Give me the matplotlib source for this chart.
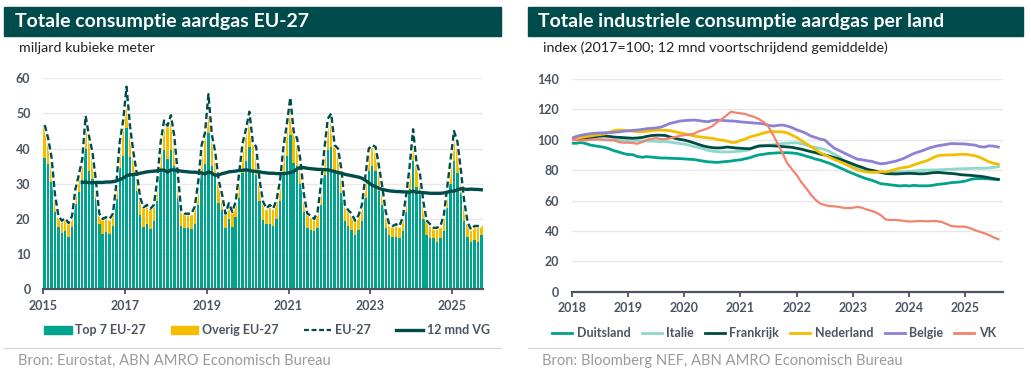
import matplotlib
matplotlib.use("Agg")
import matplotlib.pyplot as plt
from matplotlib.patches import Rectangle, Patch
from matplotlib.lines import Line2D

# ---------------- data: left chart (monthly, Jan 2015 - Sep 2025) ----------------
eu27_total = [
    46.7, 43.0, 37.6, 27.0, 21.0, 19.5, 20.2, 18.8, 20.8, 28.5, 32.5, 37.0,   # 2015
    49.3, 43.5, 39.0, 31.0, 21.5, 20.0, 20.5, 20.0, 21.5, 30.0, 42.0, 48.0,   # 2016
    57.6, 46.5, 39.0, 33.0, 26.0, 23.3, 24.0, 22.9, 24.0, 31.0, 42.0, 48.0,   # 2017
    46.5, 49.5, 43.5, 33.0, 22.5, 21.5, 21.5, 21.5, 23.5, 30.5, 41.0, 44.5,   # 2018
    55.5, 44.0, 39.0, 31.0, 27.0, 21.5, 24.5, 22.0, 25.0, 33.0, 41.5, 45.5,   # 2019
    50.5, 42.0, 40.5, 31.0, 25.0, 23.0, 24.0, 23.0, 25.5, 31.0, 40.5, 47.0,   # 2020
    54.5, 44.8, 42.9, 36.5, 27.0, 21.5, 21.0, 20.0, 22.0, 30.0, 40.0, 48.5,   # 2021
    50.0, 41.0, 40.0, 34.0, 24.0, 22.5, 21.5, 19.5, 21.0, 24.0, 32.0, 40.0,   # 2022
    41.0, 40.5, 35.0, 29.0, 22.0, 18.5, 18.0, 18.5, 18.0, 20.5, 27.0, 35.0,   # 2023
    45.5, 36.0, 33.0, 25.0, 19.5, 18.5, 17.5, 17.5, 18.0, 21.0, 29.0, 37.0,   # 2024
    45.0, 42.0, 34.0, 25.0, 19.0, 17.0, 18.0, 18.0, 18.0,                     # 2025
]
top7 = [
    37.4, 35.5, 30.5, 22.0, 17.6, 16.0, 16.5, 14.8, 17.6, 24.3, 27.6, 31.0,
    40.0, 33.5, 31.4, 25.7, 18.6, 15.7, 16.2, 15.7, 18.0, 25.7, 34.5, 38.0,
    46.0, 37.5, 32.4, 28.0, 21.0, 17.6, 18.5, 17.1, 19.5, 25.0, 34.0, 39.5,
    37.0, 39.5, 35.0, 26.0, 18.0, 17.5, 17.3, 17.2, 18.6, 24.0, 33.0, 35.5,
    44.5, 35.0, 32.0, 24.5, 22.5, 17.3, 20.0, 17.8, 20.5, 26.0, 33.0, 36.5,
    40.5, 34.0, 32.5, 25.0, 19.8, 18.5, 18.6, 18.0, 20.0, 25.0, 33.0, 38.0,
    43.8, 36.0, 35.0, 30.0, 22.0, 17.5, 17.0, 16.5, 17.5, 24.0, 32.5, 39.5,
    40.5, 34.0, 33.0, 27.5, 19.5, 18.0, 17.0, 15.5, 17.0, 19.5, 26.0, 33.5,
    35.0, 33.5, 28.0, 24.0, 17.5, 15.5, 15.0, 15.0, 14.5, 16.5, 22.0, 28.5,
    36.5, 29.0, 27.0, 20.0, 15.5, 14.5, 14.5, 13.5, 14.5, 16.5, 23.0, 30.0,
    36.5, 33.0, 27.5, 19.5, 15.0, 13.5, 14.0, 13.5, 15.5,
]
# 12-month moving average, Dec 2015 - Sep 2025
vg_start = 11
vg12 = [
    30.4,
    30.5, 30.3, 30.3, 30.4, 30.4, 30.4, 30.5, 30.5, 30.6, 30.8, 31.2, 31.6,
    32.3, 32.6, 32.6, 32.8, 33.0, 33.2, 33.4, 33.5, 33.6, 33.7, 33.9, 33.9,
    33.3, 34.0, 33.9, 33.8, 33.6, 33.5, 33.4, 33.3, 33.3, 33.2, 33.1, 32.8,
    33.4, 33.0, 32.4, 32.5, 32.9, 33.1, 33.4, 33.5, 33.6, 33.8, 33.8, 34.0,
    33.8, 33.6, 33.5, 33.4, 33.2, 33.1, 33.0, 33.0, 32.9, 32.9, 32.9, 33.0,
    33.2, 33.5, 34.2, 34.7, 34.6, 34.4, 34.3, 34.2, 34.1, 34.1, 34.0, 34.0,
    33.7, 33.5, 33.2, 33.0, 32.7, 32.5, 32.3, 32.1, 31.9, 31.6, 31.0, 30.3,
    29.6, 29.2, 28.7, 28.4, 28.2, 28.0, 27.9, 27.8, 27.8, 27.7, 27.7, 27.6,
    27.9, 27.6, 27.6, 27.5, 27.4, 27.3, 27.3, 27.3, 27.3, 27.4, 27.6, 27.9,
    27.9, 28.3, 28.6, 28.5, 28.4, 28.5, 28.4, 28.4, 28.3,
]
left_years = [2015, 2017, 2019, 2021, 2023, 2025]
left_start_year = 2015

# ---------------- data: right chart (monthly, Jan 2018 - Aug 2025) ----------------
right_start_year = 2018
right_years = [2018, 2019, 2020, 2021, 2022, 2023, 2024, 2025]
duitsland = [
    97.7, 97.7, 98.2, 97.5, 96.5, 96.0, 95.5, 95.0, 94.0, 92.8, 92.0, 91.0,
    90.3, 90.2, 89.0, 88.5, 88.9, 88.6, 88.3, 88.0, 88.0, 87.8, 87.7, 87.6,
    87.4, 87.2, 87.0, 86.5, 86.0, 85.5, 85.3, 85.1, 85.4, 85.7, 86.0, 86.5,
    86.8, 87.5, 88.2, 89.3, 90.1, 90.5, 91.0, 91.2, 91.4, 91.5, 91.5, 91.3,
    91.0, 90.2, 89.2, 88.4, 87.3, 86.6, 85.5, 84.5, 83.2, 81.8, 80.5, 79.0,
    77.8, 76.5, 75.3, 74.2, 73.4, 72.2, 71.0, 70.8, 70.3, 70.0, 69.6, 69.9,
    69.6, 70.0, 69.7, 69.7, 69.7, 70.0, 70.6, 70.9, 71.3, 71.8, 72.0, 72.3,
    72.8, 73.8, 74.4, 74.5, 74.4, 74.2, 74.0, 73.9,
]
italie = [
    100.0, 100.3, 100.5, 100.7, 100.5, 100.3, 100.0, 99.9, 99.8, 99.7, 99.6, 99.5,
    99.4, 99.3, 99.3, 99.2, 99.2, 99.1, 99.0, 98.8, 98.7, 98.4, 98.0, 97.5,
    97.2, 96.5, 95.5, 95.0, 94.0, 93.0, 92.5, 92.2, 92.0, 92.0, 92.0, 92.3,
    92.5, 92.8, 93.5, 95.5, 96.0, 96.3, 96.5, 96.7, 97.0, 97.5, 97.8, 98.0,
    98.0, 97.5, 96.5, 95.5, 95.0, 94.3, 93.5, 92.3, 90.5, 89.0, 86.5, 84.5,
    82.5, 81.2, 80.3, 79.5, 79.0, 78.8, 78.6, 78.6, 78.7, 78.8, 78.8, 79.0,
    79.2, 79.4, 79.7, 79.9, 80.0, 80.1, 80.2, 80.3, 80.5, 80.6, 80.8, 80.9,
    81.0, 81.1, 81.2, 81.2, 81.3, 81.5, 81.8, 82.3,
]
frankrijk = [
    100.0, 100.5, 101.0, 101.3, 101.6, 102.0, 102.4, 102.5, 102.2, 101.8, 101.6, 101.4,
    101.2, 101.0, 101.2, 101.5, 102.2, 102.8, 103.0, 103.0, 102.8, 101.8, 101.0, 100.3,
    99.8, 99.0, 98.0, 97.0, 96.0, 95.3, 94.8, 94.6, 94.7, 95.2, 95.0, 94.6,
    94.4, 94.2, 94.1, 95.0, 95.9, 96.0, 96.1, 96.0, 95.8, 95.5, 95.3, 95.0,
    94.4, 93.8, 93.0, 92.2, 91.5, 90.6, 90.0, 89.2, 88.3, 87.4, 86.3, 85.2,
    84.0, 82.8, 81.8, 80.6, 79.9, 79.3, 78.5, 77.8, 77.6, 77.5, 77.6, 77.8,
    77.9, 77.8, 77.6, 77.6, 77.9, 78.3, 78.5, 78.3, 78.0, 77.8, 77.5, 77.0,
    76.8, 76.6, 76.3, 76.0, 75.6, 75.0, 74.4, 73.9,
]
nederland = [
    100.0, 100.8, 101.5, 102.0, 102.5, 103.0, 103.4, 103.8, 105.0, 106.0, 106.4, 106.4,
    106.0, 105.7, 105.4, 105.3, 105.5, 106.0, 106.3, 106.4, 106.2, 106.0, 105.3, 104.6,
    104.0, 103.3, 102.6, 102.0, 101.6, 101.3, 101.0, 100.2, 99.8, 99.2, 98.3, 98.3,
    99.5, 100.5, 101.8, 102.7, 103.5, 104.5, 105.2, 105.3, 105.3, 105.2, 104.5, 103.0,
    101.5, 99.5, 97.5, 95.5, 93.5, 91.5, 90.0, 88.5, 87.0, 85.8, 84.5, 83.0,
    81.5, 80.0, 79.3, 78.8, 78.6, 78.7, 79.0, 78.8, 79.5, 80.5, 81.3, 81.8,
    82.3, 83.5, 84.5, 85.5, 86.5, 88.0, 89.5, 89.8, 90.0, 90.0, 90.2, 90.4,
    90.4, 90.0, 89.5, 88.5, 87.0, 85.5, 84.5, 83.8,
]
belgie = [
    101.0, 102.2, 103.0, 103.5, 104.0, 104.3, 104.5, 104.6, 104.7, 104.9, 105.2, 105.6,
    105.9, 106.2, 106.4, 106.8, 107.3, 107.5, 107.8, 108.3, 109.5, 110.8, 111.5, 112.3,
    112.6, 112.8, 113.0, 112.7, 112.2, 111.9, 112.6, 113.0, 112.8, 112.5, 112.4, 112.2,
    111.8, 111.5, 111.3, 111.0, 110.8, 110.4, 109.5, 109.0, 109.5, 109.7, 109.0, 108.0,
    106.5, 105.5, 104.2, 102.5, 101.5, 100.5, 99.8, 97.0, 94.5, 93.0, 91.5, 90.0,
    88.5, 87.2, 86.8, 86.2, 85.8, 84.8, 84.2, 84.5, 85.2, 85.8, 86.8, 88.0,
    89.5, 91.0, 92.0, 93.0, 94.3, 95.2, 96.0, 96.5, 97.0, 97.5, 97.4, 97.3,
    97.2, 96.8, 96.5, 95.5, 95.2, 96.0, 95.8, 95.2,
]
vk = [
    100.0, 99.8, 99.4, 99.7, 100.0, 100.3, 100.3, 100.0, 99.9, 99.8, 98.5, 98.1,
    98.1, 97.8, 97.4, 98.5, 100.0, 100.6, 101.0, 100.5, 100.3, 101.0, 101.8, 102.6,
    103.0, 103.5, 103.8, 105.5, 106.4, 107.5, 109.0, 111.5, 113.5, 116.0, 118.5, 117.8,
    117.4, 117.0, 115.8, 115.0, 113.5, 111.5, 108.5, 103.0, 97.0, 91.0, 84.5, 80.5,
    76.8, 72.0, 68.2, 64.0, 60.5, 58.0, 57.0, 56.4, 56.2, 55.8, 55.2, 55.0,
    55.3, 55.8, 55.2, 54.0, 53.2, 52.0, 50.2, 47.5, 47.2, 47.2, 47.0, 46.5,
    46.2, 46.3, 46.5, 46.5, 46.3, 46.5, 46.4, 45.8, 44.5, 43.2, 42.9, 42.8,
    42.8, 41.8, 40.5, 39.5, 38.5, 37.3, 35.8, 34.5,
]
right_series = [
    ("Duitsland", duitsland),
    ("Italie", italie),
    ("Frankrijk", frankrijk),
    ("Nederland", nederland),
    ("Belgie", belgie),
    ("VK", vk),
]

# ---------------- styling ----------------
W, H = 1031, 377
DARK = "#004c4c"
TEAL = "#00a38d"
YELLOW = "#f3bd00"
TICK = "#4a5561"
GRID = "#e6e8ea"
SRC = "#9a9a9a"
FONT = ["Lato", "DejaVu Sans"]
plt.rcParams["font.family"] = FONT
right_colors = {
    "Duitsland": "#00a38d",
    "Italie": "#8fd8cc",
    "Frankrijk": "#004c45",
    "Nederland": "#f3bd00",
    "Belgie": "#8f80d6",
    "VK": "#f3836e",
}

fig = plt.figure(figsize=(W / 100, H / 100), dpi=100)


def px_axes(x0, y0, x1, y1):
    return fig.add_axes([x0 / W, 1 - y1 / H, (x1 - x0) / W, (y1 - y0) / H])


def fx(x):
    return x / W


def fy(y):
    return 1 - y / H


# title bars
for (x0, x1, title, sub, xt, xs, src, sep) in [
    (4, 501, "Totale consumptie aardgas EU-27", "miljard kubieke meter", 15, 19,
     "Bron: Eurostat, ABN AMRO Economisch Bureau", (4, 501)),
    (528, 1023, "Totale industriele consumptie aardgas per land",
     "index (2017=100; 12 mnd voortschrijdend gemiddelde)", 538, 543,
     "Bron: Bloomberg NEF, ABN AMRO Economisch Bureau", (528, 1023)),
]:
    fig.patches.append(Rectangle((fx(x0), fy(36)), fx(x1 - x0), 29 / H,
                                 transform=fig.transFigure, color=DARK, zorder=0))
    fig.text(fx(xt), fy(21.5), title, color="white", fontsize=14, fontweight="bold",
             va="center", ha="left")
    fig.text(fx(xs), fy(47.5), sub, color="#222222", fontsize=10.3, va="center", ha="left")
    fig.lines.append(Line2D([fx(sep[0]), fx(sep[1])], [fy(348), fy(348)],
                            transform=fig.transFigure, color="#d5d5d5", lw=0.9))
    fig.text(fx(xs - 1), fy(361), src, color=SRC, fontsize=10.6, va="center", ha="left")

# ---------------- left chart ----------------
axL = px_axes(43, 78.3, 483, 289.3)
n = len(eu27_total)
xs = [i + 0.5 for i in range(n)]
overig = [t - p for t, p in zip(eu27_total, top7)]
axL.bar(xs, top7, width=0.72, color=TEAL, linewidth=0, zorder=2)
axL.bar(xs, overig, bottom=top7, width=0.72, color=YELLOW, linewidth=0, zorder=2)
axL.plot(xs, eu27_total, color="white", lw=2.6, zorder=3, solid_capstyle="butt")
axL.plot(xs, eu27_total, color=DARK, lw=1.7, ls=(0, (2.6, 1.4)), zorder=4)
vg_x = [vg_start + i + 0.5 for i in range(len(vg12))]
axL.plot(vg_x, vg12, color=DARK, lw=2.4, zorder=5)
axL.set_xlim(0, n)
axL.set_ylim(0, 60)
axL.set_yticks(range(0, 61, 10))
axL.set_xticks([(y - left_start_year) * 12 for y in left_years])
axL.set_xticklabels([str(y) for y in left_years])

# ---------------- right chart ----------------
axR = px_axes(571.7, 79, 1003, 291.7)
for name, vals in right_series:
    lw = 1.6 if name == "VK" else 2.0
    axR.plot(range(len(vals)), vals, color=right_colors[name], lw=lw, zorder=3,
             solid_joinstyle="round")
axR.set_xlim(0, 92)
axR.set_ylim(0, 140)
axR.set_yticks(range(0, 141, 20))
axR.set_xticks([(y - right_start_year) * 12 for y in right_years])
axR.set_xticklabels([str(y) for y in right_years])

for ax in (axL, axR):
    for s in ("top", "right", "left"):
        ax.spines[s].set_visible(False)
    ax.spines["bottom"].set_color(TICK)
    ax.spines["bottom"].set_linewidth(1.6)
    ax.spines["bottom"].set_zorder(6)
    ax.grid(axis="y", color=GRID, lw=1.0, zorder=0)
    ax.set_axisbelow(True)
    ax.tick_params(axis="y", length=0, pad=9, labelsize=9, labelcolor=TICK)
    ax.tick_params(axis="x", length=3.5, width=1.3, color=TICK, pad=4,
                   labelsize=9, labelcolor=TICK)
    for lab in ax.get_xticklabels() + ax.get_yticklabels():
        lab.set_fontweight("bold")
    ax.set_facecolor("none")

# legends
hL = [Patch(color=TEAL), Patch(color=YELLOW),
      Line2D([], [], color=DARK, lw=1.6, ls=(0, (2.2, 1.2))),
      Line2D([], [], color=DARK, lw=2.4)]
legL = fig.legend(hL, ["Top 7 EU-27", "Overig EU-27", "EU-27", "12 mnd VG"],
                  loc="center", bbox_to_anchor=(fx(267), fy(330)), ncol=4,
                  frameon=False, fontsize=9, handlelength=2.2, handleheight=0.6,
                  handletextpad=0.3, columnspacing=2.0)
for t in legL.get_texts():
    t.set_color(TICK)
    t.set_fontweight("bold")

hR = [Line2D([], [], color=right_colors[nm], lw=2.0) for nm, _ in right_series]
legR = fig.legend(hR, [nm for nm, _ in right_series],
                  loc="center", bbox_to_anchor=(fx(774), fy(333)), ncol=6,
                  frameon=False, fontsize=9, handlelength=1.6,
                  handletextpad=0.35, columnspacing=0.9)
for t in legR.get_texts():
    t.set_color(TICK)
    t.set_fontweight("bold")

fig.savefig("out.png", dpi=100)
